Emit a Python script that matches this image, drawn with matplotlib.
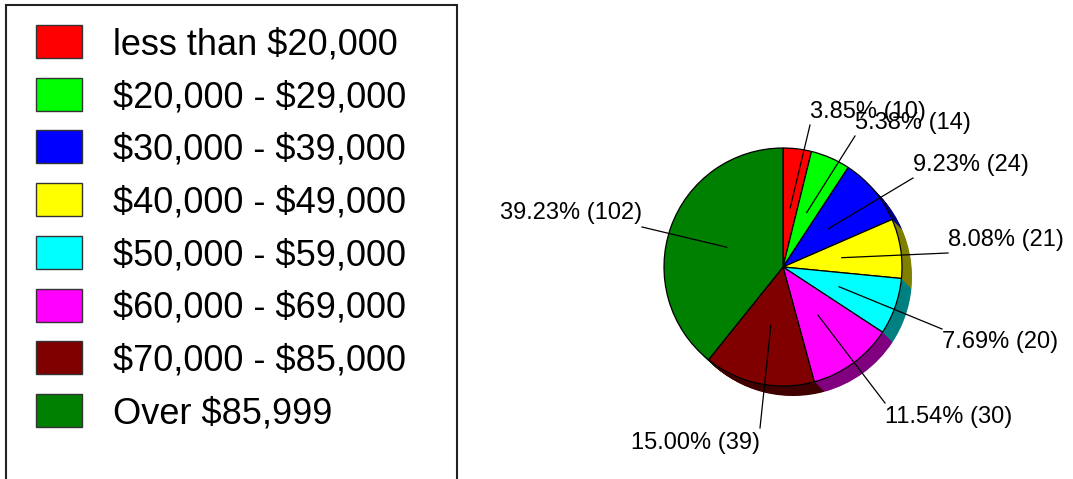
import matplotlib.pyplot as plt
import matplotlib.patches as patches
import numpy as np

plt.rcParams['font.family'] = ['Liberation Sans', 'DejaVu Sans']

# data
categories = ["less than $20,000", "$20,000 - $29,000", "$30,000 - $39,000",
              "$40,000 - $49,000", "$50,000 - $59,000", "$60,000 - $69,000",
              "$70,000 - $85,000", "Over $85,999"]
counts = [10, 14, 24, 21, 20, 30, 39, 102]
colors = ["#ff0000", "#00ff00", "#0000ff", "#ffff00",
          "#00ffff", "#ff00ff", "#800000", "#008000"]

W, H = 1073, 479
fig = plt.figure(figsize=(W / 100, H / 100), dpi=100)
ax = fig.add_axes([0, 0, 1, 1])

# pie geometry (pixels, y up)
cx, cy, r = 783, H - 267, 119
depth = 10

def darker(c):
    rgb = np.array(plt.matplotlib.colors.to_rgb(c))
    return tuple(rgb * 0.5)

# 3d-ish extrusion drawn first
for k in np.linspace(depth, 0.5, 20):
    ax.pie(counts, colors=[darker(c) for c in colors], startangle=90,
           counterclock=False, radius=r, center=(cx + k, cy - k),
           wedgeprops=dict(linewidth=0), frame=True)

wedges, _ = ax.pie(counts, colors=colors, startangle=90, counterclock=False,
                   radius=r, center=(cx, cy),
                   wedgeprops=dict(edgecolor='black', linewidth=0.9), frame=True)
ax.set_xlim(0, W)
ax.set_ylim(0, H)
ax.set_aspect('equal')
ax.axis('off')

# labels: text anchor (x, y in image px), alignment, line end point
label_layout = [
    ((810, 112), 'left', (810, 125)),
    ((855, 123), 'left', (855, 136)),
    ((913, 165), 'left', (913, 178)),
    ((948, 240), 'left', (948, 253)),
    ((942, 342), 'left', (942, 329)),
    ((885, 417), 'left', (885, 403)),
    ((760, 443), 'right', (760, 428)),
    ((642, 213), 'right', (642, 227)),
]
total = sum(counts)
ang = 90.0
for i, w in enumerate(wedges):
    span = counts[i] / total * 360
    mid = np.deg2rad(ang - span / 2)
    ang -= span
    inner = (cx + 0.5 * r * np.cos(mid), cy + 0.5 * r * np.sin(mid))
    (tx, ty), ha, (lx, ly) = label_layout[i]
    ax.plot([inner[0], lx], [inner[1], H - ly], color='black', linewidth=0.9)
    ax.text(tx, H - ty, "%.2f%% (%d)" % (counts[i] / total * 100, counts[i]),
            ha=ha, va='center', fontsize=17)

# legend box
ax.add_patch(patches.Rectangle((6, -20), 451, H - 5 + 20, fill=False,
                               edgecolor='#222222', linewidth=1.5))
for i, name in enumerate(categories):
    y = 25 + i * 52.7
    ax.add_patch(patches.Rectangle((36, H - y - 33), 46, 33, facecolor=colors[i],
                                   edgecolor='#333333', linewidth=1))
    ax.text(113, H - y - 20, name, ha='left', va='center', fontsize=26,
            parse_math=False)

fig.savefig('out.png', dpi=100)
